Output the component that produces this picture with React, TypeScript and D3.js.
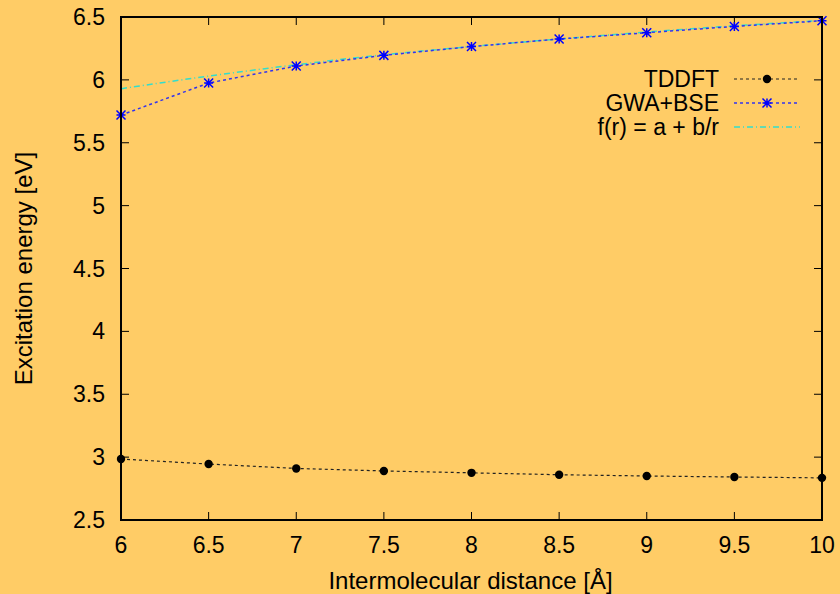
import React, { useEffect, useRef } from "react";
import * as d3 from "d3";

const distances = [6, 6.5, 7, 7.5, 8, 8.5, 9, 9.5, 10];
const tddft = [2.985, 2.945, 2.91, 2.89, 2.875, 2.86, 2.85, 2.842, 2.835];
const gwaBse = [5.72, 5.975, 6.11, 6.195, 6.265, 6.325, 6.375, 6.425, 6.47];
const fitValues = [5.93, 6.03, 6.12, 6.2, 6.265, 6.325, 6.38, 6.43, 6.472];
const xTicks = [6, 6.5, 7, 7.5, 8, 8.5, 9, 9.5, 10];
const yTicks = [2.5, 3, 3.5, 4, 4.5, 5, 5.5, 6, 6.5];
const legendNames = ["TDDFT", "GWA+BSE", "f(r) = a + b/r"];

const App = () => {
  const ref = useRef(null);

  useEffect(() => {
    const width = 840;
    const height = 594;
    const m = { left: 121, right: 822, top: 17, bottom: 520 };
    const font = "Liberation Sans, Arial, sans-serif";
    const fs = 23;

    const svg = d3.select(ref.current);
    svg.selectAll("*").remove();

    svg.append("rect").attr("width", width).attr("height", height).attr("fill", "#ffcc66");

    const x = d3.scaleLinear().domain([6, 10]).range([m.left, m.right]);
    const y = d3.scaleLinear().domain([2.5, 6.5]).range([m.bottom, m.top]);

    const g = svg.append("g");

    // ticks (inside, mirrored on top/right)
    xTicks.forEach((t) => {
      g.append("line").attr("x1", x(t)).attr("x2", x(t)).attr("y1", m.bottom).attr("y2", m.bottom - 8).attr("stroke", "#000");
      g.append("line").attr("x1", x(t)).attr("x2", x(t)).attr("y1", m.top).attr("y2", m.top + 8).attr("stroke", "#000");
      g.append("text")
        .attr("x", x(t))
        .attr("y", 553)
        .attr("text-anchor", "middle")
        .attr("font-family", font)
        .attr("font-size", fs)
        .text(t);
    });
    yTicks.forEach((t) => {
      g.append("line").attr("x1", m.left).attr("x2", m.left + 8).attr("y1", y(t)).attr("y2", y(t)).attr("stroke", "#000");
      g.append("line").attr("x1", m.right).attr("x2", m.right - 8).attr("y1", y(t)).attr("y2", y(t)).attr("stroke", "#000");
      g.append("text")
        .attr("x", 105)
        .attr("y", y(t) + 8)
        .attr("text-anchor", "end")
        .attr("font-family", font)
        .attr("font-size", fs)
        .text(t);
    });

    const line = d3
      .line<number>()
      .x((_, i) => x(distances[i]))
      .y((d) => y(d));

    // fit curve
    g.append("path")
      .attr("d", line.curve(d3.curveMonotoneX)(fitValues))
      .attr("fill", "none")
      .attr("stroke", "#33ddcc")
      .attr("stroke-width", 1.5)
      .attr("stroke-dasharray", "6,3,1,3");

    line.curve(d3.curveLinear);

    g.append("path")
      .attr("d", line(tddft))
      .attr("fill", "none")
      .attr("stroke", "#222")
      .attr("stroke-width", 1.2)
      .attr("stroke-dasharray", "3,3");

    g.append("path")
      .attr("d", line(gwaBse))
      .attr("fill", "none")
      .attr("stroke", "#3333ee")
      .attr("stroke-width", 1.5)
      .attr("stroke-dasharray", "3,3");

    const dot = (px, py) => {
      g.append("circle").attr("cx", px).attr("cy", py).attr("r", 4.2).attr("fill", "#000");
    };
    const star = (px, py) => {
      const s = 4.5;
      const p = `M${px - s},${py}H${px + s}M${px},${py - s}V${py + s}M${px - s},${py - s}L${px + s},${py + s}M${px - s},${py + s}L${px + s},${py - s}`;
      g.append("path").attr("d", p).attr("stroke", "#0000ff").attr("stroke-width", 1.5).attr("fill", "none");
    };

    tddft.forEach((v, i) => dot(x(distances[i]), y(v)));
    gwaBse.forEach((v, i) => star(x(distances[i]), y(v)));

    // frame
    g.append("rect")
      .attr("x", m.left)
      .attr("y", m.top)
      .attr("width", m.right - m.left)
      .attr("height", m.bottom - m.top)
      .attr("fill", "none")
      .attr("stroke", "#000")
      .attr("stroke-width", 2);

    // legend
    const legY = [79, 103, 127];
    const styles = [
      { stroke: "#222", dash: "3,3", w: 1.2 },
      { stroke: "#3333ee", dash: "3,3", w: 1.5 },
      { stroke: "#33ddcc", dash: "6,3,1,3", w: 1.5 },
    ];
    legendNames.forEach((name, i) => {
      g.append("text")
        .attr("x", 719)
        .attr("y", legY[i] + 8)
        .attr("text-anchor", "end")
        .attr("font-family", font)
        .attr("font-size", fs)
        .text(name);
      g.append("line")
        .attr("x1", 734)
        .attr("x2", 800)
        .attr("y1", legY[i])
        .attr("y2", legY[i])
        .attr("stroke", styles[i].stroke)
        .attr("stroke-width", styles[i].w)
        .attr("stroke-dasharray", styles[i].dash);
    });
    dot(767, legY[0]);
    star(767, legY[1]);

    // axis titles
    g.append("text")
      .attr("x", (m.left + m.right) / 2 - 1)
      .attr("y", 589)
      .attr("text-anchor", "middle")
      .attr("font-family", font)
      .attr("font-size", 24)
      .text("Intermolecular distance [Å]");
    g.append("text")
      .attr("transform", `translate(32,${(m.top + m.bottom) / 2}) rotate(-90)`)
      .attr("text-anchor", "middle")
      .attr("font-family", font)
      .attr("font-size", 24)
      .text("Excitation energy [eV]");
  }, []);

  return (
    <svg
      ref={ref}
      width={840}
      height={594}
      style={{ position: "absolute", left: 0, top: 0, display: "block" }}
    />
  );
};

export default App;
